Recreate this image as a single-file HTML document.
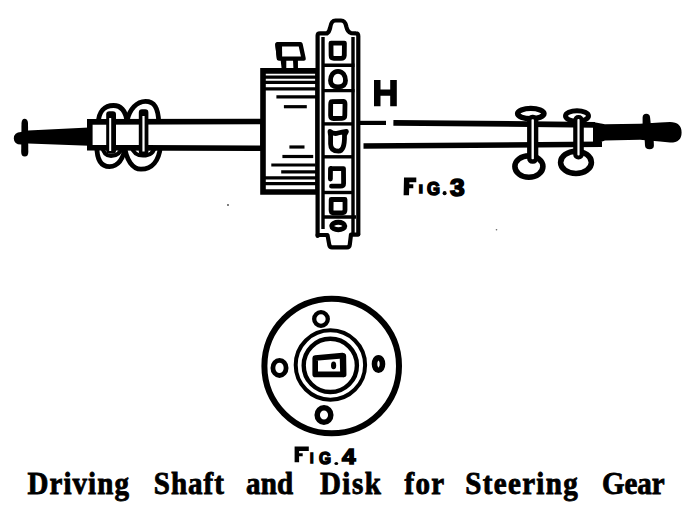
<!DOCTYPE html>
<html><head><meta charset="utf-8">
<style>
html,body{margin:0;padding:0;background:#fff;}
#c{position:relative;width:690px;height:515px;overflow:hidden;background:#fff;}
svg{position:absolute;left:0;top:0;}
.w{position:absolute;top:468px;font-family:"Liberation Serif",serif;font-weight:bold;font-size:29px;line-height:1;color:#000;white-space:nowrap;-webkit-text-stroke:0.8px #000;transform:scaleY(1.08);transform-origin:0 0;}
.f{position:absolute;font-family:"Liberation Sans",sans-serif;font-weight:bold;line-height:1;color:#000;white-space:nowrap;-webkit-text-stroke:1.6px #000;transform-origin:0 0;}
</style></head><body>
<div id="c">
<svg width="690" height="515" viewBox="0 0 690 515">
<g fill="none" stroke="#000" stroke-linejoin="round" stroke-linecap="round">

<!-- LEFT END ROD -->
<path d="M89 127.5 L28 130.4 L21 132 Q14 132 13.8 138.5 Q14 144.5 21 144.5 L28 143.6 L89 145.8 Z" fill="#000" stroke="none"/>
<path d="M21.5 123 Q22 118.8 24.5 118.8 Q27.5 118.8 28 123 L28.3 152 Q28.3 156.5 24.8 156.5 Q21.2 156.5 21.2 152 Z" fill="#000" stroke="none"/>

<!-- LEFT CLIPS (behind shaft) -->
<g stroke-width="4.8">
<path d="M98.3 124 C98.3 111, 105 105.5, 113.5 105.5 C121 105.5, 125.5 111, 127 121"/>
<path d="M96.8 146 C96.8 159, 101 166.6, 109.5 166.6 C118 166.6, 123.5 160, 126 144"/>
<path d="M127 121 C129.5 109, 137 101.4, 145.5 101.4 C154 101.4, 158.3 107, 158.8 123"/>
<path d="M124 143 C126 161, 133 169.2, 141 169.2 C152 169.2, 159 161, 160.5 146"/>
</g>
<g stroke-width="4">
<path d="M102 146 C103 152.5, 106 156, 111 156 C117 156, 121 152, 123 146"/>
<path d="M131 146 C133 153, 137 155.6, 143 155.6 C149 155.6, 154 153, 155 146"/>
</g>

<!-- LEFT SHAFT / COLLAR -->
<path d="M89.8 121.9 L263 121.5 L263 148.3 L89.8 147.6 Z" fill="#fff" stroke-width="5.6" stroke-linejoin="miter"/>

<!-- PINS -->
<rect x="106.2" y="111.3" width="9.8" height="42.5" rx="3.2" fill="#000" stroke="none"/>
<rect x="109.2" y="118" width="2" height="33" fill="#fff" stroke="none"/>
<rect x="138.8" y="109.2" width="9.6" height="45.5" rx="3.2" fill="#000" stroke="none"/>
<rect x="142.4" y="116" width="2.2" height="35.5" fill="#fff" stroke="none"/>

<!-- HUB -->
<path d="M263 70.9 L318 70.9 L318 192 L263 192 Z" fill="#fff" stroke-width="5.6" stroke-linejoin="miter"/>
<g stroke-width="3.2" stroke-linecap="butt">
<line x1="264" y1="77.1" x2="318" y2="77.1"/>
<line x1="264" y1="82.4" x2="318" y2="82.4"/>
<line x1="264" y1="88.8" x2="318" y2="88.8"/>
<line x1="276.4" y1="96.9" x2="318" y2="96.9"/>
<line x1="283.9" y1="106.7" x2="306.8" y2="106.7"/>
<line x1="289.4" y1="147" x2="304.5" y2="147"/>
<line x1="282.4" y1="156.5" x2="313.2" y2="156.5"/>
<line x1="271.3" y1="165" x2="315.6" y2="165"/>
<line x1="281.2" y1="171.8" x2="316.7" y2="171.8"/>
<line x1="264" y1="177.8" x2="318" y2="177.8"/>
<line x1="264" y1="183.7" x2="318" y2="183.7"/>
</g>

<!-- FLAG ON HUB -->
<path d="M277.5 44.2 L300.5 44.2 L303.6 58.6 L279 58.6 Z" fill="#fff" stroke-width="4.4" stroke-linejoin="round"/>
<path d="M275.2 45 Q275 42.3 278 42.3 L282 42.3 L282.2 60 L277 60 Z" fill="#000" stroke="none"/>
<path d="M280.4 58 L286.3 58 L286.3 70 L281.8 70 Z M292.9 58 L297.9 58 L298 70 L293.5 70 Z" fill="#000" stroke="none"/>

<!-- PLATE -->
<path d="M317.6 236 L317.6 35.5 Q317.6 33.3 320 33.3 L327 33.3 Q329.3 32 330.2 27.5 Q331.2 20.5 335.5 20.5 L341 20.5 Q345.2 20.5 346.3 26.5 Q347.5 32 351 33.1 L356 33.3 Q358.3 33.3 358.3 36 L358.3 234" fill="#fff" stroke-width="4.2" stroke-linejoin="round"/>
<path d="M317.6 235 L327.5 235 L329.3 245 Q329.8 247.4 332 247.4 L347 247.4 Q349.5 247.4 349.8 244.5 L351 234.6 L358.3 234.6" fill="#fff" stroke-width="4.2"/>
<path d="M323 37 L323 229 M353 37 L353 233" stroke-width="3.4" stroke-linecap="butt"/>
<g stroke-width="3.4" stroke-linecap="butt">
<line x1="322" y1="65.2" x2="354.5" y2="65.2"/>
<line x1="322" y1="90.6" x2="354.5" y2="90.6"/>
<line x1="322" y1="123.9" x2="352" y2="123.9"/>
<line x1="322" y1="156.8" x2="354" y2="156.8"/>
<line x1="322" y1="192.5" x2="354" y2="192.5"/>
<line x1="322" y1="217" x2="356" y2="217"/>
</g>
<!-- cells -->
<g stroke-width="4.8" stroke-linejoin="round">
<path d="M331 43.1 L344.4 43.1 L344.3 55.5 Q344 58.3 341 58.3 L334 58.3 Q331.1 58.3 331.1 55.5 Z"/>
<path d="M338 71.3 C343 71.3, 345.5 76, 345.5 80.5 C345.5 84.5, 343 86.8, 338 86.8 C333 86.8, 330.5 84.5, 330.5 80.5 C330.5 76, 333 71.3, 338 71.3 Z"/>
<path d="M331.5 101.6 L343.5 101.3 Q345 101.5 345 104 L344.8 115.5 Q344.8 118.3 342 118.3 L333.5 118.5 Q330.6 118.5 330.6 115.5 L330.7 104 Q330.8 101.6 331.5 101.6 Z"/>
<path d="M330 131.5 Q334 134.5 338 133 Q342 132 346.4 131.5 L344.5 135 Q344.8 151.2 338.5 151.2 Q330.6 151.2 330.6 144 L330.6 136 Z"/>
<path d="M331 168.6 L343.5 168.6 L343.6 183.5 Q343.6 186.2 340.5 186.2 L331.5 186.2 M330.5 168.6 L330.4 179"/>
<path d="M331.2 199.5 L345 199.5 L345 210 Q345 212.8 342 212.8 L333 212.8 Q331.1 212.8 331.1 210 Z"/>
<ellipse cx="338.3" cy="226" rx="6.5" ry="3.8" stroke-width="5"/>
</g>

<!-- RIGHT SHAFT -->
<g stroke-width="5.5" stroke-linecap="butt">
<line x1="359" y1="122.9" x2="386" y2="122.9" stroke-width="4.2"/>
<line x1="393.4" y1="122.8" x2="595" y2="124.8" stroke-width="5.8"/>
<line x1="363.5" y1="146" x2="602" y2="144.2" stroke-width="5.5"/>
</g>

<!-- RIGHT CLIPS -->
<ellipse cx="530.8" cy="113.6" rx="13.2" ry="5.2" fill="#fff" stroke-width="5.4"/>
<ellipse cx="528.9" cy="166.5" rx="14" ry="10.8" fill="#fff" stroke-width="5.6"/>
<rect x="529.3" y="117" width="6.8" height="44.5" rx="3" fill="#fff" stroke-width="4.4"/>
<ellipse cx="577" cy="116" rx="11.5" ry="5.2" fill="#fff" stroke-width="5"/>
<ellipse cx="576" cy="162.4" rx="15.4" ry="11.1" fill="#fff" stroke-width="5.6"/>
<rect x="575.3" y="117" width="6.4" height="40.5" rx="3" fill="#fff" stroke-width="4.2"/>

<!-- RIGHT END ROD -->
<path d="M593 122 L605 124.3 L640 123.8 L660 122.6 L670 122 Q681.6 122.3 681.6 132.5 Q681.6 142.8 670 142.6 L660 141.6 L640 139.8 L605 140.5 L593 144.8 Z" fill="#000" stroke="none"/>
<path d="M642.6 124.5 L642.6 117.5 Q642.8 113.8 646.3 113.8 Q649.8 113.8 650.1 117.5 L650.8 124.5 Z" fill="#000" stroke="none"/>
<path d="M644.6 138.5 L653.6 138.5 L653.9 145.5 Q653.9 149.3 649.6 149.3 Q645.2 149.3 645 145.5 Z" fill="#000" stroke="none"/>

<!-- H -->
<path d="M374 80 L380.5 80 L380.5 89.5 L390.2 89.5 L390.2 80 L396.8 80 L396.8 106.2 L390.2 106.2 L390.2 95.7 L380.5 95.7 L380.5 106.2 L374 106.2 Z" fill="#000" stroke="none"/>
<!-- F glyphs -->
<path d="M404 177.4 L416.3 177.4 L416.3 182.3 L409.4 182.3 L409.4 184.3 L413.3 184.3 L413.3 188.3 L409.2 188.3 L409 195.2 L403.6 195.2 Z" fill="#000" stroke="none"/>
<path d="M294.6 446.6 L308.8 446.6 L308.8 451.1 L299.1 451.1 L299.1 453.2 L302.7 453.2 L302.7 456.2 L299.1 456.2 L299.1 462.3 L294.6 462.3 Z" fill="#000" stroke="none"/>
<!-- dots -->
<ellipse cx="444.6" cy="193.2" rx="2" ry="2.1" fill="#000" stroke="none"/>
<ellipse cx="336.3" cy="463.5" rx="1.9" ry="1.6" fill="#000" stroke="none"/>

<circle cx="228" cy="205" r="0.9" fill="#444" stroke="none"/>
<circle cx="496.5" cy="229.8" r="0.8" fill="#666" stroke="none"/>

<!-- FIG 4 DISK -->
<circle cx="331.7" cy="366" r="67.3" stroke-width="6"/>
<circle cx="330.4" cy="365" r="34.7" stroke-width="4"/>
<circle cx="330.3" cy="365.4" r="26.6" stroke-width="4.4"/>
<path d="M315.2 358 L342.5 355.6 L343 374.4 L315.2 374.4 Z" stroke-width="5.6" stroke-linejoin="round"/>
<path d="M343.4 356 L343.7 374.5" stroke-width="5.5"/>
<ellipse cx="333.6" cy="365.4" rx="2.6" ry="3.8" fill="#000" stroke="none"/>
<ellipse cx="321" cy="319" rx="6.8" ry="6.8" stroke-width="4.3"/>
<ellipse cx="279.5" cy="367.9" rx="6.6" ry="7.6" stroke-width="4.8"/>
<ellipse cx="378.5" cy="364" rx="4" ry="6.3" stroke-width="5.6"/>
<ellipse cx="324" cy="415" rx="6.8" ry="7.2" stroke-width="5.5"/>
</g>
</svg>

<!-- FIG labels -->
<div class="f" style="left:418.7px;top:184.3px;font-size:11.47px;transform:scaleX(1.143);">I</div>
<div class="f" style="left:426.6px;top:180.4px;font-size:18.53px;transform:scaleX(0.902);">G</div>
<div class="f" style="left:449.5px;top:176.0px;font-size:24.37px;transform:scaleX(1.084);">3</div>
<div class="f" style="left:310.3px;top:451.2px;font-size:14.18px;transform:scaleX(0.893);">I</div>
<div class="f" style="left:319.0px;top:450.0px;font-size:17.42px;transform:scaleX(0.89);">G</div>
<div class="f" style="left:342.2px;top:446.1px;font-size:22.26px;transform:scaleX(1.092);">4</div>

<!-- caption -->
<div class="w" style="left:27.5px;letter-spacing:1.053px;">Driving</div>
<div class="w" style="left:153.8px;letter-spacing:0.99px;">Shaft</div>
<div class="w" style="left:246.0px;letter-spacing:0.248px;">and</div>
<div class="w" style="left:319.9px;letter-spacing:1.53px;">Disk</div>
<div class="w" style="left:404.6px;letter-spacing:1.234px;">for</div>
<div class="w" style="left:465.3px;letter-spacing:1.327px;">Steering</div>
<div class="w" style="left:602.0px;letter-spacing:-0.101px;">Gear</div>
</div>
</body></html>
